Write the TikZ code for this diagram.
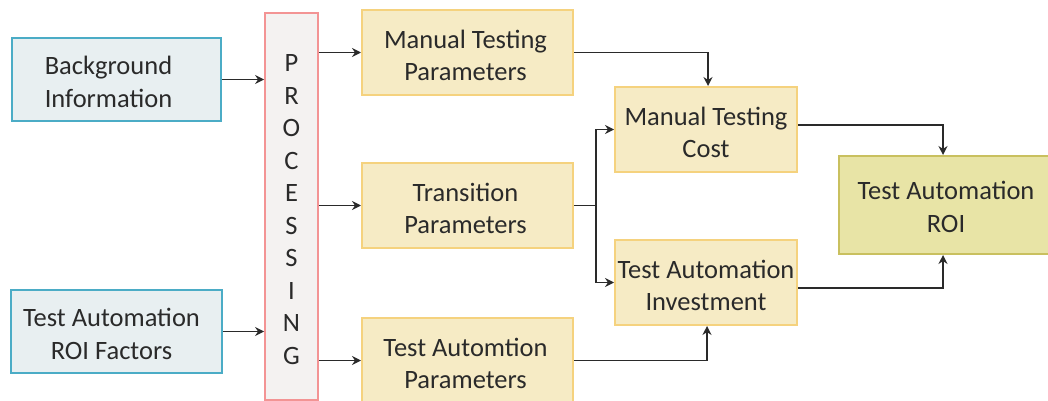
\documentclass[tikz,border=0pt]{standalone}
\usepackage{fontspec}
\setmainfont{Carlito}
\usetikzlibrary{arrows.meta}
\definecolor{inputfill}{HTML}{E8EFF1}
\definecolor{inputdraw}{HTML}{4BACC6}
\definecolor{procfill}{HTML}{F4F2F1}
\definecolor{procdraw}{HTML}{F39494}
\definecolor{paramfill}{HTML}{F6EBC5}
\definecolor{paramdraw}{HTML}{F5D27E}
\definecolor{roifill}{HTML}{E8E4A6}
\definecolor{roidraw}{HTML}{C9C05F}
\definecolor{ink}{HTML}{2A2A2A}
\begin{document}
\begin{tikzpicture}[x=1pt,y=-1pt,
  base/.style={rectangle, inner sep=0pt, line width=2pt, align=center, text=ink,
    font=\fontsize{26.5}{32.5}\selectfont},
  boxtext/.style={base, draw=none, fill=none},
  inputbox/.style={base, fill=inputfill, draw=inputdraw},
  procbox/.style={base, fill=procfill, draw=procdraw, line width=1.8pt},
  parambox/.style={base, fill=paramfill, draw=paramdraw},
  roibox/.style={base, fill=roifill, draw=roidraw},
  link/.style={draw=ink, line width=1.9pt, -{Stealth[length=9pt,width=9pt]}}]
\useasboundingbox (0,0) rectangle (1048,401);
\begin{scope}
\clip (0,0) rectangle (1048,401);
% inputs
\node[inputbox, minimum width=209pt, minimum height=83pt] (bg) at (116.5,79.5) {};
\node[inputbox, minimum width=211pt, minimum height=83pt] (roif) at (116.5,331.5) {};
% processing column
\node[procbox, minimum width=53pt, minimum height=387pt] (proc) at (291.5,206.5) {};
\foreach \l [count=\i] in {P,R,O,C,E,S,S,I,N,G}
  \node[base, anchor=base] (proc-\i) at (291.5,71.5+32.5*\i-32.5) {\l};
% parameter groups
\node[parambox, minimum width=211pt, minimum height=85pt] (mtp) at (467.5,52.5) {};
\node[parambox, minimum width=211pt, minimum height=85pt] (tp) at (467.5,205.5) {};
\node[parambox, minimum width=211pt, minimum height=85pt] (tap) at (467.5,360.5) {};
% cost and investment
\node[parambox, minimum width=182pt, minimum height=85pt] (mtc) at (706,129.5) {};
\node[parambox, minimum width=182pt, minimum height=85pt] (tai) at (706,282.5) {};
% result
\node[roibox, minimum width=214pt, minimum height=98pt] (roi) at (946,205) {};
% box captions, set slightly below the geometric centre
\node[boxtext] (bg-t) at ([xshift=-8pt,yshift=-2.5pt]bg.center) {Background\\Information};
\node[boxtext] (roif-t) at ([xshift=-5pt,yshift=-2.5pt]roif.center) {Test Automation\\ROI Factors};
\node[boxtext] (mtp-t) at ([xshift=-2pt,yshift=-3pt]mtp.center) {Manual Testing\\Parameters};
\node[boxtext] (tp-t) at ([xshift=-2pt,yshift=-3pt]tp.center) {Transition\\Parameters};
\node[boxtext] (tap-t) at ([xshift=-2pt,yshift=-3pt]tap.center) {Test Automtion\\Parameters};
\node[boxtext] (mtc-t) at ([yshift=-3pt]mtc.center) {Manual Testing\\Cost};
\node[boxtext] (tai-t) at ([yshift=-3pt]tai.center) {Test Automation\\Investment};
\node[boxtext] (roi-t) at ([yshift=-2pt]roi.center) {Test Automation\\ROI};
\end{scope}
% connectors
\draw[link] (bg.east) -- (bg.east -| proc.west);
\draw[link] (roif.east) -- (roif.east -| proc.west);
\draw[link] (proc.east |- mtp.west) -- (mtp.west);
\draw[link] (proc.east |- tp.west) -- (tp.west);
\draw[link] (proc.east |- tap.west) -- (tap.west);
\draw[link] (mtp.east) -| ([xshift=2pt]mtc.north);
\draw[draw=ink, line width=1.9pt] (tp.east) -- ++(22,0) coordinate (split);
\draw[link] (split) |- (mtc.west);
\draw[link] (split) |- (tai.west);
\draw[link] (tap.east) -| ([xshift=1pt]tai.south);
\draw[link] ([yshift=4.5pt]mtc.east) -| ([xshift=-3pt]roi.north);
\draw[link] ([yshift=-5.5pt]tai.east) -| ([xshift=-3pt]roi.south);
\end{tikzpicture}
\end{document}
